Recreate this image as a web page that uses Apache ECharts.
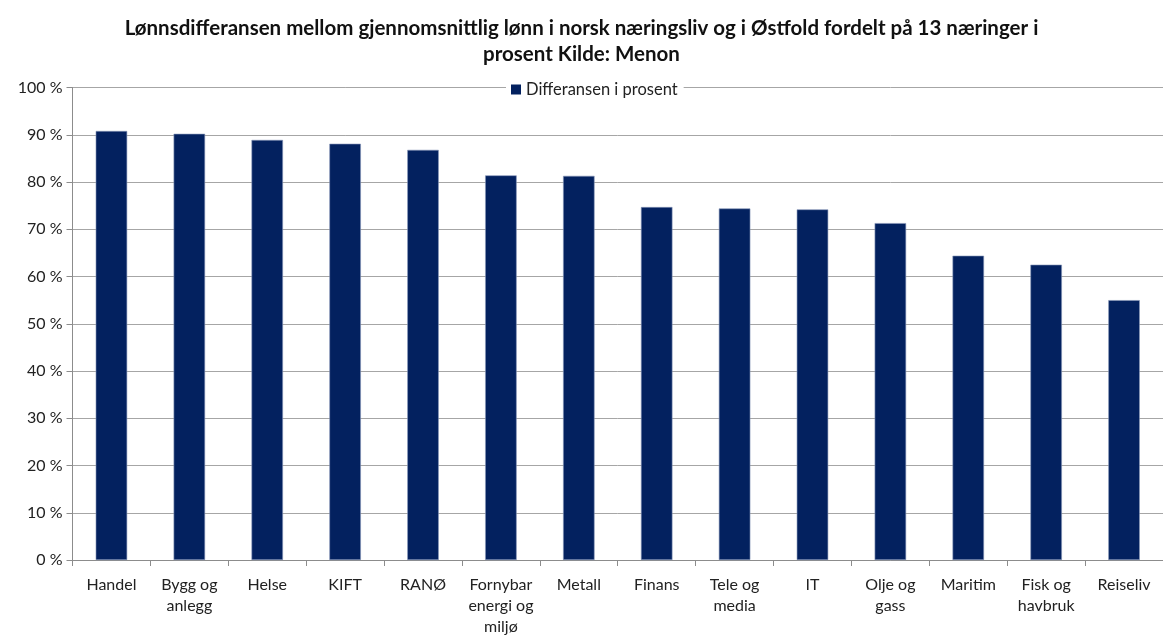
<!DOCTYPE html>
<html>
<head>
<meta charset="utf-8">
<script src="https://cdn.jsdelivr.net/npm/echarts@6/dist/echarts.min.js"></script>
<style>html,body{margin:0;padding:0;background:#fff;overflow:hidden}#c{width:1163px;height:637px}</style>
</head>
<body>
<div id="c"></div>
<script>
const titleText = 'Lønnsdifferansen mellom gjennomsnittlig lønn i norsk næringsliv og i Østfold fordelt på 13 næringer i\nprosent Kilde: Menon';
const categories = ['Handel', 'Bygg og\nanlegg', 'Helse', 'KIFT', 'RANØ', 'Fornybar\nenergi og\nmiljø', 'Metall', 'Finans', 'Tele og\nmedia', 'IT', 'Olje og\ngass', 'Maritim', 'Fisk og\nhavbruk', 'Reiseliv'];
const seriesName = 'Differansen i prosent';
const values = [90.8, 90.2, 88.9, 88.1, 86.8, 81.4, 81.3, 74.7, 74.4, 74.2, 71.3, 64.4, 62.5, 55.0];
const yTicks = [0, 10, 20, 30, 40, 50, 60, 70, 80, 90, 100];

const font = 'Lato, "Open Sans", sans-serif';
const chart = echarts.init(document.getElementById('c'), null, {renderer: 'canvas'});
chart.setOption({
  animation: false,
  backgroundColor: '#fff',
  title: {
    text: titleText,
    left: 'center',
    top: 10,
    textStyle: {fontFamily: font, fontWeight: 'bold', fontSize: 20.5, color: '#111', lineHeight: 26}
  },
  legend: {
    data: [seriesName],
    top: 80,
    left: 506,
    itemWidth: 10,
    itemHeight: 10,
    itemGap: 5,
    padding: [1, 6, 1, 5],
    backgroundColor: '#fff',
    itemStyle: {borderWidth: 0},
    textStyle: {fontFamily: font, fontSize: 16.5, color: '#222'},
    icon: 'rect'
  },
  grid: {left: 72.5, top: 87.5, width: 1103, height: 476, containLabel: false},
  xAxis: {
    type: 'category',
    data: categories,
    axisLine: {lineStyle: {color: '#8c8c8c'}},
    axisTick: {show: true, length: 6, lineStyle: {color: '#8c8c8c'}},
    axisLabel: {fontFamily: font, fontSize: 16, color: '#222', lineHeight: 21, margin: 14, interval: 0}
  },
  yAxis: {
    type: 'value',
    min: yTicks[0],
    max: yTicks[yTicks.length - 1],
    interval: 10,
    axisLine: {show: true, lineStyle: {color: '#8c8c8c'}},
    axisTick: {show: true, length: 6, lineStyle: {color: '#8c8c8c'}},
    splitLine: {lineStyle: {color: '#a6a6a6'}},
    axisLabel: {fontFamily: font, fontSize: 16, color: '#222', margin: 10, formatter: v => v + ' %'}
  },
  series: [{
    name: seriesName,
    type: 'bar',
    data: values,
    barWidth: 31.5,
    itemStyle: {color: '#03215f', borderColor: '#8897b8', borderWidth: 0.6}
  }]
});
</script>
</body>
</html>
